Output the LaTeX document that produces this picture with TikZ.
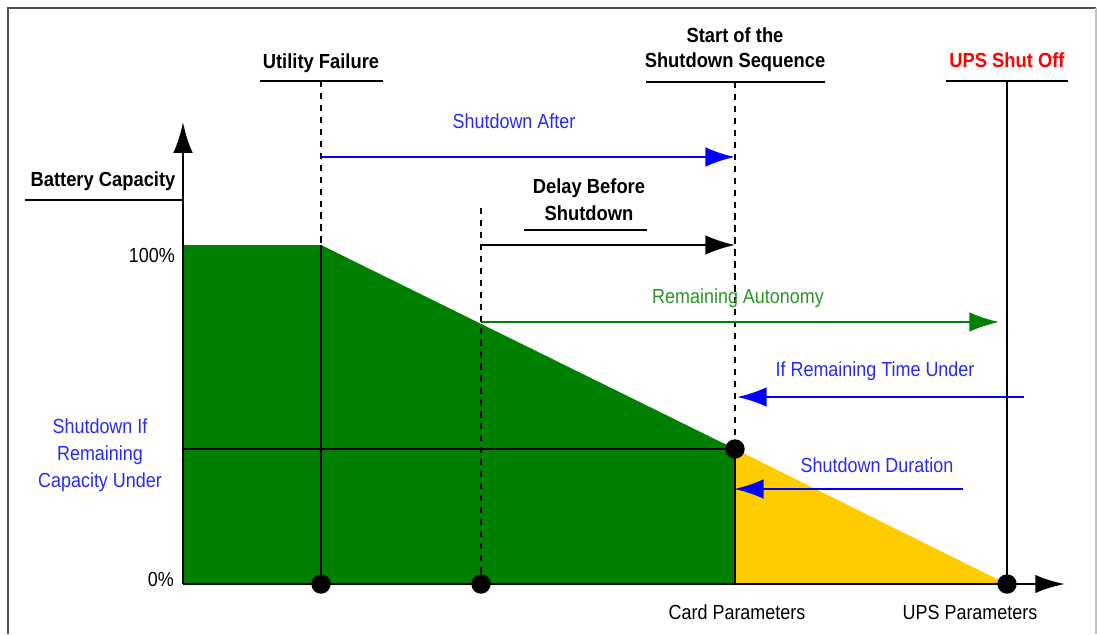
\documentclass[tikz,border=0pt]{standalone}
\usepackage{fontspec}
\setmainfont{Liberation Sans}[FakeStretch=0.88, BoldFeatures={FakeStretch=0.9}]
\usepackage{xcolor}
\definecolor{upsgreen}{RGB}{0,128,0}
\definecolor{upsyellow}{RGB}{255,204,0}
\definecolor{upsblue}{RGB}{0,0,255}
\definecolor{textblue}{RGB}{40,40,255}
\definecolor{textgreen}{RGB}{40,150,40}
\definecolor{upsred}{RGB}{255,0,0}
\definecolor{framegray}{RGB}{80,80,80}
\usepackage{tikz}
\usetikzlibrary{arrows.meta,positioning}

\begin{document}
\begin{tikzpicture}[x=0.025cm, y=-0.025cm,
    lbl/.style={font=\fontsize{14.5}{18.5}\selectfont, inner sep=0pt, align=center},
    hdr/.style={lbl, font=\fontsize{14.5}{18.5}\selectfont\bfseries},
    bar/.style={line width=1.8pt},
    marker/.style={dashed, line width=1.7pt, dash pattern=on 4.5pt off 4pt},
    tip/.style={-{Latex[length=21pt, width=14pt]}, line width=1.9pt}]
    % Frame of the picture
    \useasboundingbox (0,0) rectangle (1097,634);
    \draw[framegray, line width=1.3pt] (8,634) -- (8,8) -- (1096,8);
    \draw[black!25, line width=1.3pt] (1096,8) -- (1096,634);

    % Key points on the curve
    \coordinate (O) at (183,584);
    \coordinate (FULL) at (183,245);
    \coordinate (UFtop) at (321,245);
    \coordinate (UF) at (321,584);
    \coordinate (DB) at (481,584);
    \coordinate (SS) at (735,449);
    \coordinate (SSb) at (735,584);
    \coordinate (OFF) at (1007,584);
    \coordinate (CAP) at (183,449);

    % Battery capacity areas
    \fill[upsgreen] (O) -- (FULL) -- (UFtop) -- (SS) -- (SSb) -- cycle;
    \fill[upsyellow] (SS) -- (OFF) -- (SSb) -- cycle;

    % Axes
    \coordinate (YT) at (183,122);
    \coordinate (XT) at (1065,584);
    \draw[-{Latex[length=22pt, width=14pt]}, line width=2.1pt] (O) -- (YT);
    \draw[-{Latex[length=21pt, width=13pt]}, line width=2.1pt] (O) -- (XT);
    \node[lbl, anchor=base east] (full) at (175,262) {100\%};
    \node[lbl, anchor=base east] (zero) at (174,586) {0\%};

    % Event headings
    \node[hdr, anchor=base] (bc) at (103,186) {Battery Capacity};
    \coordinate (BChd) at (25,200);
    \draw[bar] (BChd) -- ++(157,0);

    \node[hdr, anchor=base] (uf) at (321,68) {Utility Failure};
    \coordinate (UFhd) at (321,81);
    \draw[bar] (UFhd) ++(-61,0) -- ++(123,0);

    \node[hdr, anchor=base] (ss1) at (735,42) {Start of the};
    \node[hdr, anchor=base] (ss2) at (735,67) {Shutdown Sequence};
    \coordinate (SShd) at (735,82);
    \draw[bar] (SShd) ++(-89,0) -- ++(179,0);

    \node[hdr, anchor=base, text=upsred] (off) at (1007,67) {UPS Shut Off};
    \coordinate (OFFhd) at (1007,81);
    \draw[bar] (OFFhd) ++(-61,0) -- ++(122,0);

    \node[hdr, anchor=base] (dl1) at (589,193) {Delay Before};
    \node[hdr, anchor=base] (dl2) at (589,220) {Shutdown};
    \coordinate (DLhd) at (524,230);
    \draw[bar] (DLhd) -- ++(123,0);

    % Event markers
    \coordinate (DBtop) at (481,208);
    \draw[marker] (UFhd) -- (UFtop);
    \draw[marker] (SShd) -- (SS);
    \draw[marker] (DBtop) -- (DB);
    \draw[line width=1.1pt] (UFtop) -- (UF);
    \draw[line width=1.1pt] (SS) -- (SSb);
    \draw[line width=1.1pt] (OFFhd) -- (OFF);
    \draw[line width=1.9pt] (CAP) -- (SS);

    % Time spans
    \coordinate (SAs) at (321,157);
    \coordinate (SAe) at (735,157);
    \draw[tip, upsblue] (SAs) -- (SAe);
    \node[lbl, anchor=base, text=textblue] (sa) at (514,128) {Shutdown After};

    \coordinate (DLs) at (481,245);
    \coordinate (DLe) at (735,245);
    \draw[tip] (DLs) -- (DLe);

    \coordinate (RAs) at (481,322);
    \coordinate (RAe) at (999,322);
    \draw[tip, upsgreen, line width=1.7pt] (RAs) -- (RAe);
    \node[lbl, anchor=base, text=textgreen] (ra) at (738,303) {Remaining Autonomy};

    \coordinate (RTs) at (1024,397);
    \coordinate (RTe) at (737,397);
    \draw[tip, upsblue] (RTs) -- (RTe);
    \node[lbl, anchor=base, text=textblue] (rt) at (875,376) {If Remaining Time Under};

    \coordinate (SDs) at (963,489);
    \coordinate (SDe) at (734,489);
    \draw[tip, upsblue] (SDs) -- (SDe);
    \node[lbl, anchor=base, text=textblue] (sd) at (877,472) {Shutdown Duration};

    \node[lbl, anchor=base, text=textblue] (rc1) at (100,433) {Shutdown If};
    \node[lbl, anchor=base, text=textblue] (rc2) at (100,460) {Remaining};
    \node[lbl, anchor=base, text=textblue] (rc3) at (100,487) {Capacity Under};

    % Parameter sources
    \node[lbl, anchor=base] (card) at (737,619) {Card Parameters};
    \node[lbl, anchor=base] (ups) at (970,619) {UPS Parameters};

    % Event dots
    \fill (UF) circle (6.9pt);
    \fill (DB) circle (6.9pt);
    \fill (SS) circle (6.9pt);
    \fill (OFF) circle (6.9pt);
\end{tikzpicture}
\end{document}
